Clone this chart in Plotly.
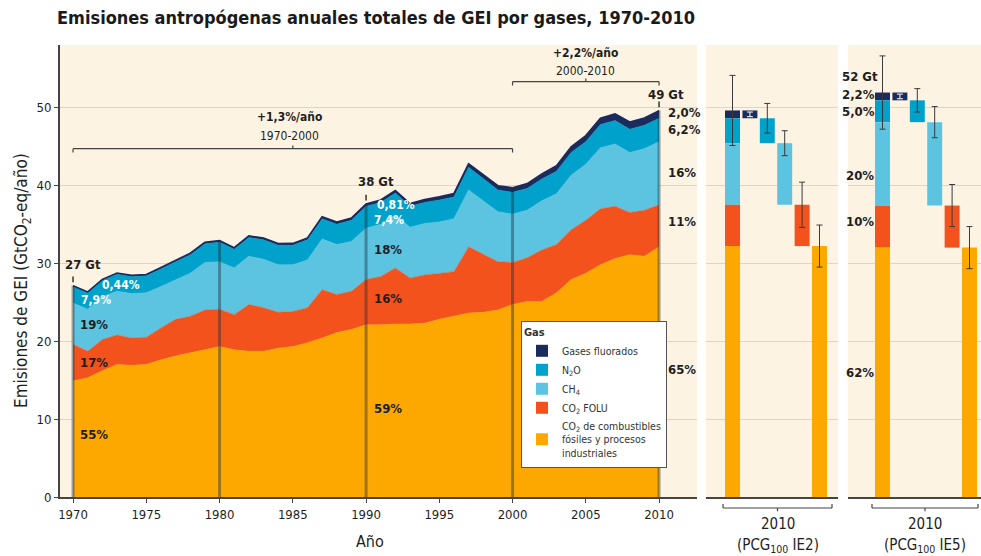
import plotly.graph_objects as go

# ---------------- data ----------------
years = list(range(1970, 2011))
co2_fossil = [14.9, 15.3, 16.2, 17.0, 16.9, 17.0, 17.6, 18.1, 18.5, 18.9,
              19.3, 18.9, 18.7, 18.7, 19.1, 19.3, 19.8, 20.4, 21.1, 21.5,
              22.1, 22.1, 22.2, 22.2, 22.3, 22.8, 23.2, 23.6, 23.7, 24.0,
              24.7, 25.1, 25.1, 26.2, 27.9, 28.7, 29.8, 30.6, 31.1, 30.9, 32.1]
co2_folu = [4.7, 3.4, 4.0, 3.8, 3.5, 3.5, 4.1, 4.7, 4.7, 5.1,
            4.8, 4.5, 6.0, 5.6, 4.6, 4.5, 4.5, 6.2, 4.9, 4.9,
            5.8, 6.2, 7.2, 5.9, 6.2, 5.9, 5.7, 8.5, 7.4, 6.2,
            5.4, 5.6, 6.6, 6.2, 6.4, 6.8, 7.2, 6.7, 5.4, 5.9, 5.4]
ch4 = [5.3, 5.4, 5.5, 5.6, 5.7, 5.7, 5.3, 5.1, 5.5, 6.1,
       6.1, 6.0, 6.2, 6.2, 6.1, 6.0, 6.1, 6.5, 6.4, 6.4,
       6.6, 6.7, 6.8, 6.5, 6.6, 6.6, 6.8, 7.3, 6.9, 6.4,
       6.2, 6.1, 6.3, 6.5, 7.0, 7.2, 7.8, 8.0, 7.7, 7.9, 8.1]
n2o = [2.1, 2.1, 2.1, 2.2, 2.2, 2.2, 2.3, 2.3, 2.4, 2.4,
       2.5, 2.4, 2.4, 2.5, 2.5, 2.5, 2.6, 2.6, 2.6, 2.7,
       2.8, 2.8, 2.8, 2.7, 2.7, 2.8, 2.8, 2.9, 2.8, 2.8,
       2.8, 2.8, 2.8, 2.9, 2.9, 2.9, 3.0, 3.0, 3.0, 3.0, 3.0]
fgas = [0.12, 0.12, 0.13, 0.14, 0.14, 0.15, 0.16, 0.17, 0.18, 0.19,
        0.20, 0.20, 0.21, 0.22, 0.23, 0.24, 0.25, 0.26, 0.28, 0.29,
        0.31, 0.32, 0.34, 0.36, 0.38, 0.42, 0.45, 0.48, 0.52, 0.55,
        0.58, 0.62, 0.66, 0.70, 0.74, 0.78, 0.82, 0.87, 0.91, 0.94, 0.98]

# legend order (top of stack first)
gas_labels = ["Gases fluorados", "N<sub>2</sub>O", "CH<sub>4</sub>",
              "CO<sub>2</sub> FOLU",
              "CO<sub>2</sub> de combustibles<br>fósiles y procesos<br>industriales"]
gas_colors = ["#1b2b5e", "#00a2cb", "#5cc4e1", "#f4521d", "#fca800"]

# 2010 panels (order: F-gases, N2O, CH4, CO2 FOLU, CO2 fossil)
ie2_values = [1.0, 3.2, 7.9, 5.3, 32.2]
ie2_errors = [0.3, 1.9, 1.6, 2.9, 2.7]
ie2_total_error = 4.5
ie5_values = [1.0, 2.8, 10.7, 5.4, 32.0]
ie5_errors = [0.3, 1.5, 2.0, 2.7, 2.7]
ie5_total_error = 4.7

decade_years = [1970, 1980, 1990, 2000, 2010]
total_label_years = [1970, 1990, 2010]
total_labels = ["27 Gt", "38 Gt", "49 Gt"]

x_ticks = list(range(1970, 2011, 5))
y_ticks = list(range(0, 51, 10))

# ---------------- layout helpers ----------------
W, Hh = 981, 556
L, T, B = 60, 45, 59
PW, PH = W - L, Hh - T - B


def px(xp):
    return (xp - L) / PW


def py(yp):
    return (Hh - B - yp) / PH


FONT = "DejaVu Sans Condensed"
DARK = "#1e1e1e"
BG = "#fdf3e2"
GRID = "#ddd5c9"

fig = go.Figure()

# stacked areas (bottom to top)
series = [co2_fossil, co2_folu, ch4, n2o, fgas]
for vals, col in zip(series, gas_colors[::-1]):
    fig.add_trace(go.Scatter(
        x=years, y=vals, stackgroup="main", mode="lines",
        line=dict(width=1.6 if col == gas_colors[0] else 0.5, color=col),
        fillcolor=col, showlegend=False, hoverinfo="skip"))

totals = [a + b + c + d + e for a, b, c, d, e in zip(*series)]

# small tick marks above labelled totals
fig.add_trace(go.Scatter(
    x=total_label_years,
    y=[totals[years.index(yv)] + 0.8 for yv in total_label_years],
    mode="markers", showlegend=False, hoverinfo="skip",
    marker=dict(symbol="line-ns", size=4, color="#333",
                line=dict(width=1.5, color="#333"))))


def add_panel(values, errors, total_err, xa, ya, show_legend):
    # bottom-up bases
    bases = [0.0] * 5
    acc = 0.0
    for i in range(4, -1, -1):
        bases[i] = acc
        acc += values[i]
    total = acc
    for i in range(5):
        fig.add_trace(go.Bar(
            x=[0, i + 1], y=[values[i], values[i]], base=[bases[i], bases[i]],
            width=0.86, marker=dict(color=gas_colors[i], line=dict(width=0)),
            name=gas_labels[i], legendgroup=gas_labels[i],
            showlegend=show_legend, xaxis=xa, yaxis=ya, hoverinfo="skip"))
    tops = [bases[i] + values[i] for i in range(5)]
    fig.add_trace(go.Scatter(
        x=[0, 2, 3, 4, 5], y=[total, tops[1], tops[2], tops[3], tops[4]],
        mode="markers", marker=dict(size=1, color="rgba(0,0,0,0)"),
        error_y=dict(type="data", array=[total_err] + errors[1:],
                     color="#3a3a3a", thickness=1, width=3),
        showlegend=False, hoverinfo="skip", xaxis=xa, yaxis=ya))
    fig.add_trace(go.Scatter(
        x=[1], y=[tops[0] - values[0] / 2],
        mode="markers", marker=dict(size=1, color="rgba(0,0,0,0)"),
        error_y=dict(type="data", array=[errors[0]], color="white",
                     thickness=1, width=3),
        showlegend=False, hoverinfo="skip", xaxis=xa, yaxis=ya))


add_panel(ie2_values, ie2_errors, ie2_total_error, "x2", "y2", True)
add_panel(ie5_values, ie5_errors, ie5_total_error, "x3", "y3", False)

shapes = []
# decade vertical bars
for dy in decade_years:
    shapes.append(dict(type="line", xref="x", yref="y", x0=dy, x1=dy, y0=0,
                       y1=totals[years.index(dy)],
                       line=dict(color="rgba(25,45,55,0.42)", width=3)))


def bracket(x0, x1, y, hook, xref="x", yref="y"):
    lc = dict(color="#444", width=1.2)
    xm = (x0 + x1) / 2
    return [
        dict(type="line", xref=xref, yref=yref, x0=x0, x1=x1, y0=y, y1=y, line=lc),
        dict(type="line", xref=xref, yref=yref, x0=x0, x1=x0, y0=y, y1=y - hook, line=lc),
        dict(type="line", xref=xref, yref=yref, x0=x1, x1=x1, y0=y, y1=y - hook, line=lc),
        dict(type="line", xref=xref, yref=yref, x0=xm, x1=xm, y0=y, y1=y + hook * 0.8, line=lc),
    ]


shapes += bracket(1970, 2000, 44.7, 0.5)
shapes += bracket(2000, 2010, 53.3, 0.5)
# brackets under the 2010 panels (paper coords)
shapes += bracket(px(723), px(832), py(508), py(508) - py(504), "paper", "paper")
shapes += bracket(px(872), px(978), py(508), py(508) - py(504), "paper", "paper")

ann = []


def txt(x, y, s, size=13, bold=True, color=DARK, xref="x", yref="y",
        xanchor="center", yanchor="middle", angle=0):
    ann.append(dict(x=x, y=y, xref=xref, yref=yref, text=(f"<b>{s}</b>" if bold else s),
                    showarrow=False, xanchor=xanchor, yanchor=yanchor, textangle=angle,
                    font=dict(family=FONT, size=size, color=color)))


# totals
txt(1970.7, 29.8, total_labels[0])
txt(1990.7, 40.5, total_labels[1])
txt(2010.5, 51.7, total_labels[2])
# 1970 shares
txt(1973.3, 27.2, "0,44%", 12, True, "white")
txt(1971.6, 25.3, "7,9%", 12, True, "white")
txt(1971.4, 22.1, "19%")
txt(1971.4, 17.2, "17%")
txt(1971.4, 8.0, "55%")
# 1990 shares
txt(1992.05, 37.5, "0,81%", 12, True, "white")
txt(1991.6, 35.6, "7,4%", 12, True, "white")
txt(1991.5, 31.8, "18%")
txt(1991.5, 25.5, "16%")
txt(1991.5, 11.4, "59%")
# 2010 shares
for yv, s in [(49.4, "2,0%"), (47.1, "6,2%"), (41.6, "16%"), (35.3, "11%"), (16.3, "65%")]:
    txt(2010.45, yv, s, xanchor="left")
# IE5 panel labels
for yv, s in [(54.0, "52 Gt"), (51.6, "2,2%"), (49.5, "5,0%")]:
    txt(px(840), yv, s, xref="paper", yref="y3", xanchor="left")
for yv, s in [(41.3, "20%"), (35.3, "10%"), (16.0, "62%")]:
    txt(px(844), yv, s, xref="paper", yref="y3", xanchor="left")
# growth rates
txt(1984.8, 48.8, "+1,3%/año", 12)
txt(1984.8, 46.3, "1970-2000", 12, False)
txt(2005.0, 57.0, "+2,2%/año", 12)
txt(2005.0, 54.7, "2000-2010", 12, False)
# axis titles
txt(px(22), py(281), "Emisiones de GEI (GtCO<sub>2</sub>-eq/año)", 17, False,
    xref="paper", yref="paper", angle=-90)
txt(px(370), py(541), "Año", 16, False, xref="paper", yref="paper")
# panel captions
for cx, cap in [(778, "(PCG<sub>100</sub> IE2)"), (925, "(PCG<sub>100</sub> IE5)")]:
    txt(px(cx), py(524), "2010", 15, False, xref="paper", yref="paper")
    txt(px(cx), py(545), cap, 15, False, xref="paper", yref="paper")

axis_common = dict(showgrid=False, zeroline=False)
fig.update_layout(
    width=W, height=Hh,
    margin=dict(l=L, r=0, t=T, b=B, pad=0),
    paper_bgcolor="white", plot_bgcolor=BG,
    barmode="overlay",
    font=dict(family=FONT, color=DARK),
    title=dict(text="<b>Emisiones antropógenas anuales totales de GEI por gases, 1970-2010</b>",
               x=57 / W, xref="container", xanchor="left",
               y=1 - 18 / Hh, yref="container", yanchor="middle",
               font=dict(family=FONT, size=18, color="#1a1a1a")),
    xaxis=dict(domain=[0, px(697)], range=[1969.11, 2012.59], tickvals=x_ticks,
               ticks="outside", ticklen=4, tickcolor="#444", showline=True,
               linecolor="#444", linewidth=2, tickfont=dict(size=13, family=FONT),
               anchor="y", **axis_common),
    yaxis=dict(domain=[0, 1], range=[0, 58], tickvals=y_ticks, ticks="outside",
               ticklen=4, tickcolor="#444", showline=True, linecolor="#444",
               linewidth=2, showgrid=True, gridcolor=GRID, gridwidth=1,
               zeroline=False, tickfont=dict(size=13, family=FONT), anchor="x"),
    xaxis2=dict(domain=[px(706), px(838)], range=[-1.523, 6.063], showticklabels=False,
                showline=True, linecolor="#444", linewidth=2, anchor="y2", **axis_common),
    yaxis2=dict(domain=[0, 1], range=[0, 58], tickvals=y_ticks, showticklabels=False,
                showgrid=True, gridcolor=GRID, zeroline=False, anchor="x2"),
    xaxis3=dict(domain=[px(848), 1.0], range=[-1.983, 5.661], showticklabels=False,
                showline=True, linecolor="#444", linewidth=2, anchor="y3", **axis_common),
    yaxis3=dict(domain=[0, 1], range=[0, 58], tickvals=y_ticks, showticklabels=False,
                showgrid=True, gridcolor=GRID, zeroline=False, anchor="x3"),
    legend=dict(x=px(521), y=py(321), xanchor="left", yanchor="top",
                bgcolor="white", bordercolor="#555", borderwidth=1,
                title=dict(text="<b>Gas</b>", font=dict(size=11, family=FONT)),
                font=dict(size=10.5, family=FONT, color="#333"),
                traceorder="normal", tracegroupgap=2, itemwidth=30),
    shapes=shapes, annotations=ann,
)

fig.write_html("out.html",
               config={"displayModeBar": False},
               post_script="document.body.style.margin='0';document.body.style.padding='0';"
                           "document.body.style.overflow='hidden';")
